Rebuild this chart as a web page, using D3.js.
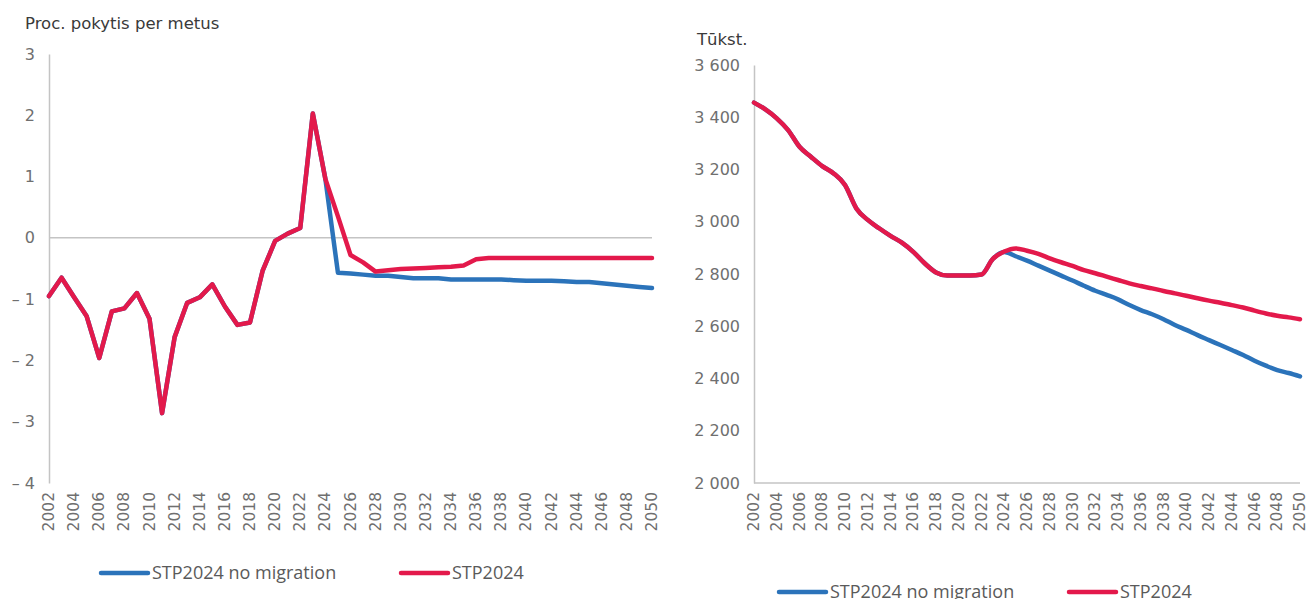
<!DOCTYPE html>
<html>
<head>
<meta charset="utf-8">
<script src="https://cdn.jsdelivr.net/npm/d3@7"></script>
<style>
  html, body { margin: 0; padding: 0; background: #fff; }
  svg { display: block; }
</style>
</head>
<body>
<svg id="chart" width="1307" height="599"></svg>
<script>
// years on the x axis
const years = [2002, 2003, 2004, 2005, 2006, 2007, 2008, 2009, 2010, 2011, 2012, 2013, 2014, 2015, 2016, 2017,
  2018, 2019, 2020, 2021, 2022, 2023, 2024, 2025, 2026, 2027, 2028, 2029, 2030, 2031, 2032, 2033, 2034,
  2035, 2036, 2037, 2038, 2039, 2040, 2041, 2042, 2043, 2044, 2045, 2046, 2047, 2048, 2049, 2050];
const yearTicks = [2002, 2004, 2006, 2008, 2010, 2012, 2014, 2016, 2018, 2020, 2022, 2024, 2026, 2028, 2030,
  2032, 2034, 2036, 2038, 2040, 2042, 2044, 2046, 2048, 2050];

// left panel: annual change, %
const changeTicks = [3, 2, 1, 0, -1, -2, -3, -4];
const changeStp = [-0.95, -0.65, -0.97, -1.28, -1.96, -1.20, -1.15, -0.90, -1.32, -2.86, -1.62, -1.06, -0.97,
  -0.76, -1.12, -1.42, -1.38, -0.54, -0.05, 0.07, 0.16, 2.03, 0.96, 0.35, -0.28, -0.40, -0.55, -0.53, -0.51,
  -0.50, -0.49, -0.48, -0.47, -0.45, -0.35, -0.33, -0.33, -0.33, -0.33, -0.33, -0.33, -0.33, -0.33, -0.33,
  -0.33, -0.33, -0.33, -0.33, -0.33];
const changeNoMig = [-0.95, -0.65, -0.97, -1.28, -1.96, -1.20, -1.15, -0.90, -1.32, -2.86, -1.62, -1.06, -0.97,
  -0.76, -1.12, -1.42, -1.38, -0.54, -0.05, 0.07, 0.16, 2.03, 0.96, -0.57, -0.58, -0.60, -0.62, -0.62, -0.64,
  -0.66, -0.66, -0.66, -0.68, -0.68, -0.68, -0.68, -0.68, -0.69, -0.70, -0.70, -0.70, -0.71, -0.72, -0.72,
  -0.74, -0.76, -0.78, -0.80, -0.82];

// right panel: population, thousands
const popTicks = [2000, 2200, 2400, 2600, 2800, 3000, 3200, 3400, 3600];
const popStp = [3456, 3430, 3396, 3351, 3287, 3249, 3213, 3185, 3141, 3051, 3007, 2975, 2946, 2920, 2885, 2841,
  2806, 2794, 2794, 2794, 2798, 2858, 2886, 2898, 2889, 2877, 2860, 2845, 2831, 2815, 2803, 2790, 2777,
  2764, 2754, 2745, 2735, 2726, 2717, 2707, 2698, 2690, 2681, 2672, 2660, 2649, 2640, 2634, 2627];
const popNoMig = [3456, 3430, 3396, 3351, 3287, 3249, 3213, 3185, 3141, 3051, 3007, 2975, 2946, 2920, 2885, 2841,
  2806, 2794, 2794, 2794, 2798, 2858, 2884, 2868, 2851, 2832, 2813, 2794, 2775, 2755, 2736, 2720, 2703,
  2681, 2662, 2646, 2627, 2605, 2586, 2566, 2547, 2528, 2509, 2490, 2468, 2449, 2432, 2421, 2408];

const seriesNames = ["STP2024 no migration", "STP2024"];
const colors = ["#2b73ba", "#e3194b"];

const svg = d3.select("#chart");
const axisGrey = "#c4c4c4";
const labelGrey = "#6f6f6f";
const font = "'DejaVu Sans', Verdana, sans-serif";

function minus(v) {
  // excel style "– 1"
  return v < 0 ? "\u2013 " + Math.abs(v) : String(v);
}

function thousands(v) {
  const s = String(v);
  return s.slice(0, s.length - 3) + " " + s.slice(-3);
}

function buildPanel(opt) {
  const g = svg.append("g");
  const x = d3.scaleLinear().domain([2002, 2050]).range([opt.left, opt.right]);
  const y = d3.scaleLinear().domain(opt.domain).range([opt.bottom, opt.top]);

  // y axis
  const yAxis = g.append("g")
    .attr("transform", "translate(" + opt.left + ",0)")
    .call(d3.axisLeft(y).tickValues(opt.ticks).tickSize(0).tickPadding(14).tickFormat(opt.format));
  yAxis.select(".domain").attr("stroke", axisGrey).attr("stroke-width", 1.5);
  yAxis.selectAll("text")
    .attr("fill", labelGrey)
    .style("font", "16px " + font);

  // baseline (zero line on the left, bottom axis on the right)
  g.append("line")
    .attr("x1", opt.left).attr("x2", opt.right)
    .attr("y1", y(opt.base)).attr("y2", y(opt.base))
    .attr("stroke", axisGrey).attr("stroke-width", 1.5);

  // x labels, rotated
  g.append("g").selectAll("text")
    .data(yearTicks)
    .enter().append("text")
    .attr("transform", d => "translate(" + (x(d) + 5) + "," + (opt.bottom + 9) + ") rotate(-90)")
    .attr("text-anchor", "end")
    .attr("fill", labelGrey)
    .style("font", "15.5px " + font)
    .text(d => d);

  // title above the y axis
  g.append("text")
    .attr("x", opt.titleX).attr("y", opt.titleY)
    .attr("fill", "#3a3a3a")
    .style("font", "16.5px " + font)
    .text(opt.title);

  const line = d3.line()
    .x((d, i) => x(years[i]))
    .y(d => y(d))
    .curve(opt.curve);

  opt.series.forEach((s, i) => {
    g.append("path")
      .datum(s)
      .attr("fill", "none")
      .attr("stroke", colors[i])
      .attr("stroke-width", opt.lineWidth)
      .attr("stroke-linejoin", "round")
      .attr("stroke-linecap", "round")
      .attr("d", line);
  });

  // legend
  const legend = g.selectAll(".legend")
    .data(seriesNames)
    .enter().append("g")
    .attr("class", "legend")
    .attr("transform", (d, i) => "translate(" + opt.legendX[i] + "," + opt.legendY + ")");
  legend.append("line")
    .attr("x1", 0).attr("x2", 47)
    .attr("stroke", (d, i) => colors[i])
    .attr("stroke-width", 4.5)
    .attr("stroke-linecap", "round");
  legend.append("text")
    .attr("x", 51)
    .attr("dy", "0.36em")
    .attr("fill", "#5a5a5a")
    .style("font", "18px 'Open Sans', sans-serif")
    .text(d => d);

  return g;
}

buildPanel({
  left: 49, right: 652, top: 54, bottom: 483,
  domain: [-4, 3], ticks: changeTicks, format: minus, base: 0,
  title: "Proc. pokytis per metus", titleX: 25, titleY: 29,
  series: [changeNoMig, changeStp], curve: d3.curveLinear, lineWidth: 4.5,
  legendX: [101, 401], legendY: 573
});

buildPanel({
  left: 754, right: 1300, top: 65, bottom: 483,
  domain: [2000, 3600], ticks: popTicks, format: thousands, base: 2000,
  title: "Tūkst.", titleX: 697, titleY: 45,
  series: [popNoMig, popStp], curve: d3.curveMonotoneX, lineWidth: 4.5,
  legendX: [779, 1069], legendY: 592
});
</script>
</body>
</html>
